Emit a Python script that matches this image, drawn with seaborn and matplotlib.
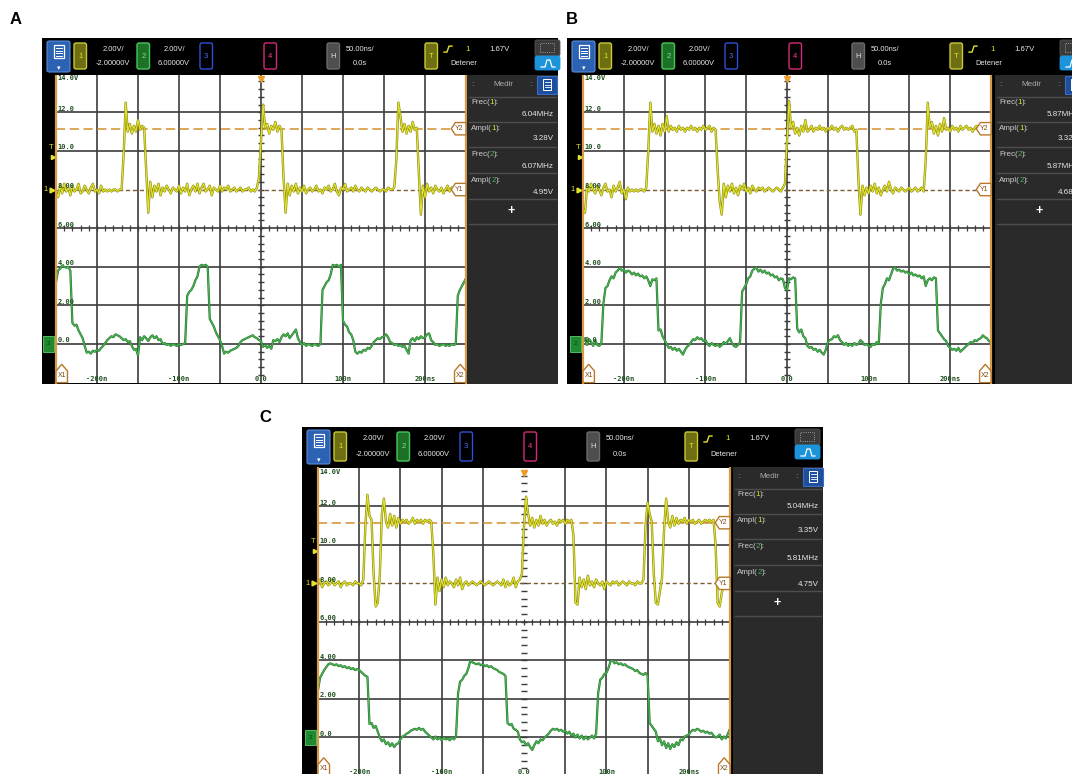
import numpy as np
import matplotlib
matplotlib.use("Agg")
import matplotlib.pyplot as plt
from matplotlib.patches import Rectangle, FancyBboxPatch, Polygon
from matplotlib.lines import Line2D
from matplotlib.transforms import IdentityTransform
import seaborn as sns

plt.rcParams["font.family"] = ["Liberation Sans", "DejaVu Sans"]

# scope sample clock: 2.5 ns per sample over the 500 ns window
t_ns = np.linspace(-250, 250, 201)

# traces in volts, one row = one 50 ns division
a_ch1 = [7.9, 7.6, 8.2, 7.8, 8.3, 7.9, 8.1, 7.7, 8.2, 7.9, 8.0, 8.3, 7.8, 7.9, 8.2, 8.0, 7.8, 8.1, 8.3, 7.9,
         8.0, 7.8, 8.2, 7.9, 8.0, 7.9, 8.0, 7.9, 8.0, 8.0, 7.9, 8.0, 8.0, 9.8, 12.5, 11.0, 11.4, 10.9, 11.3, 11.0,
         11.6, 11.1, 11.3, 11.2, 9.0, 6.8, 8.4, 7.6, 8.2, 7.9, 8.3, 7.7, 8.1, 7.9, 8.2, 8.0, 7.8, 8.1, 8.0, 7.9,
         8.2, 7.8, 8.1, 7.9, 8.3, 7.7, 8.0, 8.2, 7.9, 8.3, 7.8, 8.1, 8.3, 7.9, 8.0, 8.2, 7.7, 8.1, 8.0, 7.9,
         8.2, 7.9, 8.1, 8.0, 8.2, 7.9, 8.0, 8.1, 7.9, 8.0, 8.1, 7.9, 8.0, 8.0, 8.1, 7.9, 8.0, 7.9, 8.1, 8.6,
         10.5, 12.4, 11.2, 11.4, 10.9, 11.3, 11.1, 11.5, 11.0, 11.3, 11.1, 8.6, 6.8, 8.3, 7.7, 8.2, 7.9, 8.3, 7.8, 8.1,
         7.9, 8.2, 7.8, 8.0, 8.1, 7.9, 8.0, 8.2, 7.9, 8.0, 7.8, 8.1, 8.0, 8.2, 7.9, 8.0, 8.3, 7.9, 7.7, 8.1,
         8.0, 8.3, 7.9, 8.0, 8.1, 7.9, 8.2, 8.0, 7.9, 8.1, 8.0, 7.9, 8.1, 8.0, 7.9, 8.0, 8.1, 8.0, 7.9, 8.0,
         8.0, 7.9, 8.1, 8.0, 8.0, 8.1, 9.5, 12.5, 11.8, 11.0, 11.4, 10.9, 11.3, 11.0, 11.5, 11.1, 11.2, 8.8, 6.7, 8.2,
         7.6, 8.3, 7.9, 8.1, 7.8, 8.2, 8.0, 7.9, 8.1, 7.8, 8.0, 8.2, 7.9, 8.1, 8.0, 7.8, 8.0, 8.1, 7.9, 8.0,
         8.0]
a_ch2 = [3.2, 3.8, 3.9, 4.05, 4.0, 3.95, 4.0, 3.8, 1.1, 0.95, 1.0, 0.7, 0.5, 0.3, -0.1, -0.45, -0.4, -0.5, -0.35, -0.4,
         -0.3, -0.35, -0.2, -0.1, 0.05, 0.2, 0.3, 0.4, 0.35, 0.5, 0.45, 0.4, 0.3, 0.2, 0.25, 0.1, 0.15, -0.1, -0.3, -0.25,
         -0.6, 0.35, 0.2, 0.4, 0.3, 0.15, 0.35, 0.45, 0.3, 0.4, 0.2, 0.25, 0.0, 0.05, -0.05, 0.0, -0.1, 0.0, -0.05, -0.1,
         0.0, -0.05, 0.0, 0.05, 2.5, 2.7, 2.8, 3.0, 3.3, 3.5, 4.0, 4.1, 4.05, 4.1, 4.0, 1.3, 1.1, 0.9, 0.6, 0.4,
         0.2, -0.1, -0.5, -0.4, -0.45, -0.35, -0.3, -0.25, -0.2, -0.1, 0.1, 0.2, 0.25, 0.3, 0.35, 0.4, 0.45, 0.35, 0.3, 0.2,
         0.15, -0.15, -0.05, -0.2, -0.1, -0.25, 0.2, 0.15, 0.25, 0.1, 0.35, 0.5, 0.4, 0.55, 0.3, 0.45, 0.6, 0.75, 0.3, 0.1,
         -0.05, 0.05, -0.1, 0.0, -0.05, -0.1, 0.0, -0.05, -0.1, 0.0, 2.8, 3.0, 3.2, 3.3, 3.6, 4.1, 4.05, 4.1, 4.0, 4.1,
         1.2, 1.0, 0.9, 0.6, 0.5, 0.2, -0.4, -0.5, -0.4, -0.45, -0.3, -0.35, -0.2, -0.25, -0.1, 0.1, 0.2, 0.3, 0.25, 0.35,
         0.4, 0.5, 0.35, 0.1, 0.05, -0.05, 0.0, -0.1, -0.05, -0.15, -0.1, -0.3, -0.5, 0.2, 0.3, 0.15, 0.35, 0.25, 0.4, 0.3,
         0.35, 0.5, 0.55, 0.2, 0.1, -0.05, 0.0, -0.1, -0.05, 0.0, -0.1, -0.05, -0.1, 0.0, -0.05, 0.0, 2.5, 2.8, 3.0, 3.2,
         3.4]

b_ch1 = [7.0, 6.8, 8.2, 7.9, 8.3, 8.0, 7.8, 8.2, 8.0, 7.7, 8.1, 8.3, 7.9, 8.0, 7.6, 8.2, 7.9, 8.1, 8.4, 7.8,
         8.0, 7.5, 8.1, 7.9, 8.0, 7.9, 8.0, 7.9, 8.0, 8.0, 7.9, 8.1, 10.0, 12.5, 11.0, 11.4, 10.9, 11.3, 10.8, 11.4,
         11.0, 11.8, 11.0, 11.3, 11.1, 11.2, 11.0, 11.3, 11.1, 11.2, 11.0, 11.2, 11.1, 11.3, 11.1, 11.2, 11.0, 11.2, 11.1, 11.3,
         11.1, 11.2, 11.3, 11.0, 11.2, 11.1, 9.0, 7.4, 6.7, 8.3, 7.6, 8.2, 7.9, 8.3, 7.8, 8.1, 7.7, 8.2, 8.0, 8.3,
         7.9, 8.1, 7.8, 8.2, 8.0, 7.9, 8.1, 8.0, 8.1, 7.9, 8.0, 8.1, 8.0, 7.9, 8.0, 8.1, 8.0, 7.9, 8.1, 8.3,
         10.5, 12.6, 11.2, 11.5, 10.9, 11.2, 10.8, 11.3, 11.0, 11.6, 11.0, 11.1, 11.3, 11.0, 11.2, 11.1, 11.3, 11.1, 11.2, 11.0,
         11.2, 11.1, 11.3, 11.1, 11.2, 11.0, 11.2, 11.3, 11.1, 11.2, 11.1, 11.2, 11.3, 11.0, 11.1, 8.5, 6.7, 8.2, 7.7, 8.1,
         7.8, 8.2, 7.9, 8.3, 7.8, 8.1, 7.7, 8.0, 8.2, 7.9, 8.4, 8.0, 7.8, 8.1, 8.0, 7.9, 8.1, 8.0, 7.9, 8.0,
         8.1, 7.9, 8.0, 8.1, 7.9, 8.0, 8.1, 7.9, 9.5, 12.5, 11.2, 11.5, 10.9, 11.3, 10.8, 11.4, 11.0, 11.7, 11.1, 11.2,
         11.0, 11.3, 11.1, 11.2, 11.0, 11.3, 11.1, 11.2, 11.3, 11.1, 11.2, 11.0, 11.2, 11.3, 11.1, 11.2, 11.0, 11.3, 11.1, 11.2,
         11.2]
b_ch2 = [0.1, 0.3, -0.05, 0.25, 0.1, -0.1, 0.2, -0.05, -0.1, 0.05, 2.1, 2.9, 3.0, 3.3, 3.5, 3.4, 3.7, 3.8, 3.95, 3.8,
         3.85, 3.7, 3.8, 3.75, 3.6, 3.7, 3.55, 3.65, 3.5, 3.55, 3.4, 3.5, 3.3, 3.0, 3.35, 3.3, 3.4, 0.7, 0.75, 0.4,
         0.2, 0.0, -0.2, -0.15, -0.3, -0.2, -0.35, -0.25, -0.4, -0.55, -0.3, -0.15, -0.05, 0.1, 0.25, 0.2, 0.35, 0.25, 0.3, 0.15,
         0.2, 0.0, -0.1, 0.05, -0.05, -0.1, 0.0, -0.15, -0.05, 0.1, 0.0, 0.15, 0.3, 0.05, -0.1, -0.15, -0.05, 0.1, 2.7, 2.9,
         3.1, 3.4, 3.5, 3.8, 3.9, 3.95, 3.75, 3.85, 3.7, 3.8, 3.65, 3.7, 3.55, 3.6, 3.45, 3.5, 3.3, 3.4, 3.35, 2.9,
         2.8, 3.4, 3.35, 3.45, 3.4, 0.8, 0.6, 0.75, 0.4, 0.3, -0.1, -0.2, -0.15, -0.3, -0.25, -0.4, -0.3, -0.45, -0.55, -0.3,
         0.1, 0.2, 0.25, 0.4, 0.35, 0.45, 0.2, 0.1, -0.05, 0.05, -0.1, 0.0, -0.1, 0.05, -0.05, 0.0, 0.2, 0.1, -0.05, 0.0,
         -0.1, -0.15, 0.0, -0.05, 0.1, 0.0, 2.1, 2.9, 3.1, 3.4, 3.3, 3.6, 3.9, 3.95, 3.8, 3.85, 3.75, 3.8, 3.7, 3.75,
         3.6, 3.7, 3.55, 3.6, 3.5, 3.55, 3.4, 3.5, 3.0, 3.3, 3.4, 3.3, 3.45, 3.4, 0.7, 0.55, 0.4, 0.25, 0.15, -0.1,
         -0.2, -0.3, -0.25, -0.35, -0.2, -0.4, -0.3, -0.2, -0.1, 0.0, 0.1, 0.05, 0.2, 0.15, 0.25, 0.3, 0.45, 0.35, 0.3, 0.15,
         0.1]

c_ch1 = [7.9, 8.2, 7.8, 8.0, 8.1, 7.9, 8.0, 8.2, 7.9, 8.0, 8.1, 7.8, 8.0, 8.1, 7.9, 8.0, 8.0, 7.9, 8.1, 8.0,
         8.0, 7.9, 8.2, 11.0, 12.6, 11.5, 11.3, 8.5, 6.8, 7.0, 8.4, 11.6, 12.4, 11.2, 10.9, 11.6, 11.0, 11.5, 10.9, 11.4,
         11.1, 11.3, 11.2, 11.3, 11.1, 11.2, 11.4, 11.1, 11.3, 11.2, 11.3, 11.1, 11.3, 11.2, 11.3, 11.2, 9.5, 6.9, 8.3, 7.6,
         8.2, 7.8, 8.3, 7.9, 8.1, 8.0, 7.8, 8.2, 7.9, 8.3, 7.7, 8.0, 8.1, 7.9, 8.0, 8.1, 8.0, 7.9, 8.0, 8.1,
         8.0, 7.9, 8.0, 8.1, 8.0, 7.9, 8.0, 8.1, 8.0, 7.9, 8.2, 7.8, 8.1, 7.9, 8.0, 8.3, 7.8, 8.1, 8.2, 8.5,
         11.0, 12.5, 11.6, 11.0, 11.4, 10.9, 11.3, 11.0, 11.5, 11.1, 11.3, 11.0, 11.2, 11.3, 11.1, 11.2, 11.0, 11.3, 11.2, 11.3,
         11.1, 11.3, 11.2, 11.3, 10.5, 7.0, 6.9, 8.3, 7.8, 8.2, 7.7, 8.4, 7.9, 8.1, 7.8, 8.2, 8.0, 7.9, 8.1, 7.7,
         8.1, 8.0, 7.9, 8.1, 8.0, 8.1, 7.9, 8.0, 8.1, 8.0, 7.9, 8.1, 8.0, 8.0, 7.9, 8.1, 8.0, 8.0, 8.2, 11.0,
         12.2, 11.6, 11.2, 8.5, 7.0, 6.9, 7.6, 8.3, 10.8, 12.4, 11.2, 10.9, 11.5, 11.0, 11.4, 11.1, 11.3, 11.2, 11.4, 11.1,
         11.3, 11.2, 11.3, 11.1, 11.2, 11.3, 11.1, 11.2, 11.3, 11.2, 11.3, 11.2, 11.3, 10.0, 7.0, 6.8, 7.5, 8.0, 8.1, 8.0,
         8.1]
c_ch2 = [2.45, 3.1, 3.3, 3.5, 3.65, 3.8, 3.85, 3.8, 3.75, 3.8, 3.7, 3.75, 3.65, 3.7, 3.6, 3.65, 3.55, 3.6, 3.5, 3.55,
         3.5, 3.4, 3.3, 3.2, 3.15, 0.7, 0.75, 0.5, 0.6, 0.3, 0.0, -0.2, -0.1, -0.35, -0.25, -0.45, -0.3, -0.5, -0.35, -0.3,
         -0.1, 0.05, 0.1, 0.2, 0.25, 0.35, 0.4, 0.45, 0.4, 0.5, 0.4, 0.45, 0.3, 0.2, 0.1, 0.0, -0.1, 0.05, -0.1, 0.0,
         -0.15, 0.0, -0.1, -0.05, -0.15, 0.0, -0.1, 0.05, 2.3, 2.9, 3.0, 3.2, 3.3, 3.6, 4.0, 3.9, 3.85, 3.8, 3.85, 3.75,
         3.8, 3.7, 3.75, 3.65, 3.7, 3.6, 3.55, 3.5, 3.4, 3.35, 3.3, 3.2, 0.75, 0.65, 0.7, 0.45, 0.4, 0.3, -0.1, -0.25,
         -0.2, -0.4, -0.3, -0.5, -0.65, -0.4, -0.2, -0.3, -0.1, -0.15, 0.0, 0.1, 0.2, 0.35, 0.45, 0.4, 0.45, 0.35, 0.4, 0.3,
         0.35, 0.2, 0.3, 0.1, 0.2, 0.0, 0.15, -0.05, 0.1, -0.1, 0.05, -0.1, 0.0, 0.1, -0.05, 0.2, 2.3, 3.0, 3.1, 3.3,
         3.35, 3.6, 3.95, 4.0, 3.85, 3.9, 3.8, 3.85, 3.75, 3.8, 3.7, 3.65, 3.6, 3.55, 3.45, 3.5, 3.35, 3.3, 3.25, 3.35,
         3.2, 0.75, 0.6, 0.45, 0.3, -0.2, -0.05, -0.4, -0.2, -0.55, -0.3, -0.6, -0.35, -0.5, -0.25, -0.4, -0.1, -0.15, 0.05, 0.1,
         0.15, 0.3, 0.4, 0.35, 0.45, 0.4, 0.3, 0.35, 0.25, 0.3, 0.2, 0.25, 0.1, 0.0, 0.05, 0.15, -0.1, 0.05, -0.05, 0.2,
         0.45]

# cursor and marker levels
y1_level = 8.0
y2_level = 11.15
trig_level = 9.67
trig_time = 0
ch1_ground = 8.0
ch2_ground = 0.0

grid_t = [-200, -150, -100, -50, 0, 50, 100, 150, 200]
grid_v = [0, 2, 4, 6, 10, 12]
x_ticks = [-200, -100, 0, 100, 200]
x_tick_labels = ["-200n", "-100n", "0.0", "100n", "200ns"]
y_ticks = [14, 12, 10, 8, 6, 4, 2, 0]
y_tick_labels = ["14.0V", "12.0", "10.0", "8.00", "6.00", "4.00", "2.00", "0.0"]

ch1_scale = ["2.00V/", "-2.00000V"]
ch2_scale = ["2.00V/", "6.00000V"]
time_scale = ["50.00ns/", "0.0s"]
trig_info = ["1", "1.67V", "Detener"]

meas_names = [("Frec(", "1"), ("Ampl(", "1"), ("Frec(", "2"), ("Ampl(", "2")]
a_meas = ["6.04MHz", "3.28V", "6.07MHz", "4.95V"]
b_meas = ["5.87MHz", "3.32V", "5.87MHz", "4.68V"]
c_meas = ["5.04MHz", "3.35V", "5.81MHz", "4.75V"]

W, H = 1072, 774
fig = plt.figure(figsize=(W / 100, H / 100), dpi=100)
PIX = IdentityTransform()

YEL, YEL_DK = "#e4e42c", "#8e8e14"
GRN, GRN_DK = "#4db553", "#23762d"
GRID = "#3c3c3c"
CURSOR = "#d2902f"


def rect(x, y, w, h, fc, ec="none", lw=0, r=0, z=1, ls="-"):
    if r:
        patch = FancyBboxPatch((x, H - y - h), w, h, boxstyle=f"round,pad=0,rounding_size={r}",
                               fc=fc, ec=ec, lw=lw, ls=ls, transform=PIX, zorder=z)
    else:
        patch = Rectangle((x, H - y - h), w, h, fc=fc, ec=ec, lw=lw, ls=ls, transform=PIX, zorder=z)
    fig.add_artist(patch)


def line(xs, ys, color, lw=1, z=2):
    fig.add_artist(Line2D(xs, [H - v for v in ys], color=color, lw=lw, transform=PIX, zorder=z))


def text(x, y, s, **kw):
    kw.setdefault("va", "center")
    kw.setdefault("ha", "center")
    kw.setdefault("zorder", 4)
    return fig.text(x, H - y, s, transform=PIX, **kw)


def header(p):
    x0, hy0, hy1 = p["x0"], p["hy0"], p["hy1"]
    hh = hy1 - hy0
    r1, r2 = hy0 + 0.3 * hh, hy0 + 0.68 * hh
    by, bh = hy0 + 5, hh - 11
    rect(x0, hy0, p["x1"] - x0, hh, "black", z=1)

    # menu button
    rect(x0 + 5, hy0 + 3, 23, hh - 6, "#2c62b4", "#5c8cd8", 0.8, r=2, z=2)
    rect(x0 + 11.5, hy0 + 7, 10, 13, "none", "white", 0.9, z=3)
    for k in range(4):
        line([x0 + 13.5, x0 + 19.5], [hy0 + 10 + 2.5 * k] * 2, "white", 0.7, z=3)
    text(x0 + 16.5, hy1 - 6, "▾", color="white", fontsize=5)

    chans = [(32, "1", "#6e6e12", "#c8c83a", YEL), (95, "2", "#1c7028", "#48c858", "#7ee886"),
             (158, "3", "black", "#3050d8", "#4a6cff"), (222, "4", "black", "#d42a7a", "#ff3c96"),
             (285, "H", "#4e4e4e", "#6a6a6a", "#dddddd"), (383, "T", "#6e6e12", "#c8c83a", YEL)]
    for off, lab, fc, ec, tc in chans:
        rect(x0 + off, by, 12.5, bh, fc, ec, 1.0, r=2, z=2)
        text(x0 + off + 6.25, by + bh / 2, lab, color=tc, fontsize=5.5)

    for cx, rows in [(71, ch1_scale), (132, ch2_scale), (318, time_scale)]:
        text(x0 + cx, r1, rows[0], color="#e8e8e8", fontsize=5.4)
        text(x0 + cx, r2, rows[1], color="#e8e8e8", fontsize=5.4)

    # trigger edge symbol and settings
    line([x0 + 402, x0 + 405, x0 + 407, x0 + 410], [r1 + 3, r1 + 3, r1 - 3, r1 - 3], YEL, 1.0, z=3)
    text(x0 + 426, r1, trig_info[0], color=YEL, fontsize=5.6)
    text(x0 + 457, r1, trig_info[1], color="#e8e8e8", fontsize=5.6)
    text(x0 + 422, r2, trig_info[2], color="#e8e8e8", fontsize=5.4)

    # zoom / touch icons at the right
    rect(x0 + 493, hy0 + 2, 25, 16, "#3a3a3a", "#555555", 0.6, r=2, z=2)
    rect(x0 + 498, hy0 + 5, 14, 9, "none", "#bbbbbb", 0.6, z=3, ls=":")
    rect(x0 + 493, hy0 + 18, 25, 14, "#1c94dc", "#1c94dc", 0.6, r=2, z=2)
    line([x0 + 499, x0 + 503, x0 + 505, x0 + 508, x0 + 510, x0 + 513],
         [hy0 + 29, hy0 + 29, hy0 + 22, hy0 + 22, hy0 + 29, hy0 + 29], "white", 0.9, z=3)


def medir(p, vals):
    mx, my = p["mx"], p["hy1"]
    w = p["x1"] - mx
    rect(mx, my, w, p["py1"] + 1 - my, "#2a2a2a", z=1)
    text(mx + 6, my + 10, "::", color="#777777", fontsize=5)
    text(mx + 36, my + 10, "Medir", color="#aaaaaa", fontsize=5.8)
    text(mx + 64, my + 10, "::", color="#777777", fontsize=5)
    rect(mx + 70, my + 1, 20, 18, "#1d4f9c", "#3a6cc0", 0.8, z=2)
    rect(mx + 76, my + 4, 8, 11, "none", "white", 0.7, z=3)
    for k in range(3):
        line([mx + 77.5, mx + 82.5], [my + 7 + 2.5 * k] * 2, "white", 0.6, z=3)
    for sy in [22, 47, 72, 98, 124, 149]:
        line([mx + 2, mx + w - 2], [my + sy] * 2, "#4e4e4e", 1.0, z=2)
    r = fig.canvas.get_renderer()
    for (name, ch), val, ly, vy in zip(meas_names, vals, [28, 54, 79, 105], [39, 64, 92, 118]):
        x = mx + 4
        for s, c in [(name, "#cfcfcf"), (ch, YEL if ch == "1" else GRN), ("):", "#cfcfcf")]:
            t = text(x, my + ly, s, color=c, fontsize=5.8, ha="left")
            x += t.get_window_extent(r).width
        text(mx + w - 4, my + vy, val, color="#e6e6e6", fontsize=5.8, ha="right")
    text(mx + 44, my + 136, "+", color="white", fontsize=9, fontweight="bold")


def scope(p):
    rect(p["x0"], p["hy0"], p["x1"] - p["x0"], p["py1"] + 1 - p["hy0"], "black", z=-5)
    ax = fig.add_axes([p["px0"] / W, 1 - p["py1"] / H, (p["px1"] - p["px0"]) / W, (p["py1"] - p["py0"]) / H])
    ax.set_facecolor("white")
    for s in ax.spines.values():
        s.set_visible(False)

    for gx in grid_t:
        if gx == 0 and p["dotted_center"]:
            continue
        ax.axvline(gx, color=GRID, lw=1.2, zorder=1)
    for gy in grid_v:
        ax.axhline(gy, color=GRID, lw=1.2, zorder=1)
    ax.vlines(np.arange(-240, 250, 10), 6 - 0.15, 6 + 0.15, color=GRID, lw=0.9, zorder=1)
    ax.hlines(np.arange(-1.6, 14, 0.4), -3.5, 3.5, color=GRID, lw=1.0, zorder=1)

    ax.axhline(y1_level, color="#7b5c35", lw=1.0, ls=(0, (3, 2)), zorder=1.5)
    ax.axhline(y2_level, color=CURSOR, lw=1.1, ls=(0, (6, 3)), zorder=1.5)

    sns.lineplot(x=t_ns, y=p["ch1"], ax=ax, color=YEL_DK, linewidth=1.7, estimator=None, legend=False, zorder=3)
    sns.lineplot(x=t_ns, y=p["ch1"], ax=ax, color=YEL, linewidth=0.8, estimator=None, legend=False, zorder=3.1)
    sns.lineplot(x=t_ns, y=p["ch2"], ax=ax, color=GRN_DK, linewidth=1.6, estimator=None, legend=False, zorder=3)
    sns.lineplot(x=t_ns, y=p["ch2"], ax=ax, color=GRN, linewidth=0.8, estimator=None, legend=False, zorder=3.1)

    ax.set_xlim(-250, 250)
    ax.set_ylim(-2, 14)
    ax.set_xticks([])
    ax.set_yticks([])
    ax.set_xlabel("")
    ax.set_ylabel("")

    # X1 / X2 cursors at the edges
    ax.axvline(-250, color="#d99a45", lw=1.6, zorder=5, clip_on=False)
    ax.axvline(250, color="#d99a45", lw=1.6, zorder=5, clip_on=False)

    lab_kw = dict(fontsize=5, fontweight="bold", family="DejaVu Sans Mono", color="#1e4d1e", zorder=6)
    for v, lab in zip(y_ticks, y_tick_labels):
        if v == 14:
            ax.text(-248, 13.95, lab, ha="left", va="top", **lab_kw)
        else:
            ax.text(-248, v + 0.03, lab, ha="left", va="bottom", **lab_kw)
    for x, lab in zip(x_ticks, x_tick_labels):
        ax.text(x, -1.97, lab, ha="center", va="bottom", **lab_kw)

    # cursor tags
    tag_kw = dict(fc="white", ec="#b8782a", lw=1.0, zorder=6, clip_on=False)
    for lvl, lab in [(y1_level, "Y1"), (y2_level, "Y2")]:
        ax.add_patch(Polygon([(250, lvl + 0.32), (237, lvl + 0.32), (232, lvl), (237, lvl - 0.32), (250, lvl - 0.32)], **tag_kw))
        ax.text(242, lvl, lab, ha="center", va="center", fontsize=5, color="#7a4a10", zorder=7)
    for sx, lab in [(-250, "X1"), (250, "X2")]:
        d = 1 if sx < 0 else -1
        ax.add_patch(Polygon([(sx, -2), (sx, -1.4), (sx + d * 7, -1.05), (sx + d * 14, -1.4), (sx + d * 14, -2)], **tag_kw))
        ax.text(sx + d * 7, -1.62, lab, ha="center", va="center", fontsize=5, color="#7a4a10", zorder=7)

    # trigger position marker
    ax.plot([trig_time], [13.75], marker="v", color="#f09a28", ms=5, clip_on=False, zorder=7)

    # channel markers in the left strip
    ax.text(-256, trig_level + 0.5, "T", color=YEL, fontsize=5.5, ha="center", va="center", clip_on=False)
    ax.plot([-254], [trig_level], marker=">", color=YEL, ms=3, clip_on=False)
    ax.text(-263, ch1_ground, "1", color=YEL, fontsize=5.5, ha="center", va="center", clip_on=False)
    ax.plot([-255], [ch1_ground], marker=">", color=YEL, ms=3.5, clip_on=False)
    ax.add_patch(Rectangle((-266, ch2_ground - 0.4), 13, 0.8, fc="#1f8a30", ec="#5ad06a", lw=0.6, clip_on=False))
    ax.text(-259.5, ch2_ground, "2", color="#0d3d12", fontsize=4.5, ha="center", va="center", clip_on=False)
    return ax


panels = [
    dict(tag="A", tag_xy=(16, 20), x0=42, x1=558, hy0=38, hy1=75, px0=56, px1=466, py0=73.7, py1=382.6,
         mx=467, ch1=a_ch1, ch2=a_ch2, meas=a_meas, dotted_center=False),
    dict(tag="B", tag_xy=(572, 20), x0=567, x1=1083, hy0=38, hy1=75, px0=583, px1=991, py0=73.7, py1=382.6,
         mx=995, ch1=b_ch1, ch2=b_ch2, meas=b_meas, dotted_center=False),
    dict(tag="C", tag_xy=(265, 418), x0=302, x1=823, hy0=427, hy1=467, px0=318, px1=730, py0=467.8, py1=776,
         mx=733, ch1=c_ch1, ch2=c_ch2, meas=c_meas, dotted_center=True),
]

for p in panels:
    scope(p)
    header(p)
    medir(p, p["meas"])
    text(p["tag_xy"][0], p["tag_xy"][1], p["tag"], fontsize=12, fontweight="bold", color="black")

fig.savefig("out.png", dpi=100)
